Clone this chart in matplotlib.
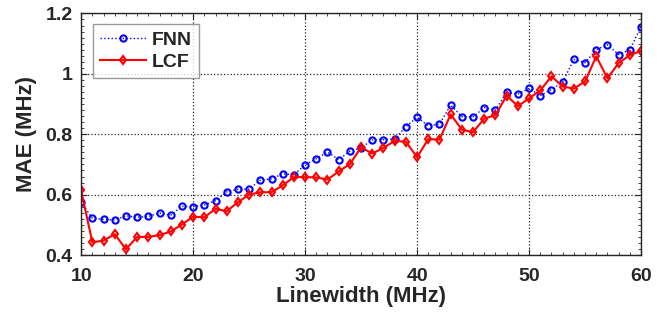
import numpy as np
import matplotlib
matplotlib.use("Agg")
import matplotlib.pyplot as plt
from matplotlib.ticker import AutoMinorLocator

linewidth = np.arange(10, 61)

fnn = [0.575, 0.522, 0.518, 0.516, 0.530, 0.525, 0.528, 0.539, 0.532, 0.561,
       0.560, 0.566, 0.580, 0.609, 0.618, 0.618, 0.648, 0.652, 0.669, 0.666,
       0.699, 0.719, 0.741, 0.716, 0.744, 0.755, 0.781, 0.782, 0.784, 0.825,
       0.856, 0.828, 0.833, 0.897, 0.858, 0.858, 0.888, 0.880, 0.939, 0.933,
       0.952, 0.928, 0.948, 0.973, 1.048, 1.037, 1.080, 1.096, 1.064, 1.080,
       1.156]

lcf = [0.614, 0.442, 0.448, 0.469, 0.419, 0.460, 0.460, 0.466, 0.478, 0.501,
       0.527, 0.525, 0.553, 0.545, 0.575, 0.600, 0.608, 0.608, 0.631, 0.658,
       0.658, 0.657, 0.650, 0.677, 0.701, 0.757, 0.736, 0.755, 0.778, 0.775,
       0.724, 0.784, 0.782, 0.866, 0.815, 0.807, 0.852, 0.863, 0.928, 0.893,
       0.919, 0.945, 0.992, 0.958, 0.951, 0.975, 1.058, 0.985, 1.036, 1.062,
       1.076]

plt.rcParams['font.family'] = ['Liberation Sans', 'DejaVu Sans']
plt.rcParams['font.weight'] = 'bold'

fig = plt.figure(figsize=(6.65, 3.2), dpi=100)
ax = fig.add_axes([0.122, 0.203, 0.842, 0.755])

ax.plot(linewidth, fnn, color='blue', linestyle=':', linewidth=1.0,
        marker='o', markersize=4.5, markerfacecolor='none',
        markeredgewidth=1.5, label='FNN')
ax.plot(linewidth, lcf, color='red', linestyle='-', linewidth=1.5,
        marker='d', markersize=4.5, markerfacecolor='none',
        markeredgewidth=1.5, label='LCF')

ax.set_xlim(10, 60)
ax.set_ylim(0.4, 1.2)
ax.set_xticks([10, 20, 30, 40, 50, 60])
ax.set_yticks([0.4, 0.6, 0.8, 1.0, 1.2])
ax.set_yticklabels(['0.4', '0.6', '0.8', '1', '1.2'])
ax.xaxis.set_minor_locator(AutoMinorLocator(10))
ax.yaxis.set_minor_locator(AutoMinorLocator(10))
ax.tick_params(which='both', direction='in', top=True, right=True,
               labelsize=14, colors='#262626')
ax.tick_params(which='major', length=4)
ax.tick_params(which='minor', length=2)
ax.tick_params(axis='x', which='major', pad=9)
ax.tick_params(axis='y', which='major', pad=6)
for spine in ax.spines.values():
    spine.set_color('#262626')
    spine.set_linewidth(1.0)

ax.grid(True, which='major', linestyle=':', color='#262626', linewidth=0.9)

ax.set_xlabel('Linewidth (MHz)', fontsize=16, fontweight='bold',
              color='#262626', labelpad=1)
ax.set_ylabel('MAE (MHz)', fontsize=16, fontweight='bold',
              color='#262626', labelpad=6)

leg = ax.legend(loc='upper left', fontsize=14, frameon=True, fancybox=False,
                edgecolor='#808080', handlelength=2.4, handletextpad=0.3,
                borderpad=0.35, labelspacing=0.25, borderaxespad=0,
                bbox_to_anchor=(0.021, 0.955))
leg.get_frame().set_linewidth(1.0)
for t in leg.get_texts():
    t.set_fontweight('bold')
    t.set_color('#262626')

fig.savefig('out.png', dpi=100)
